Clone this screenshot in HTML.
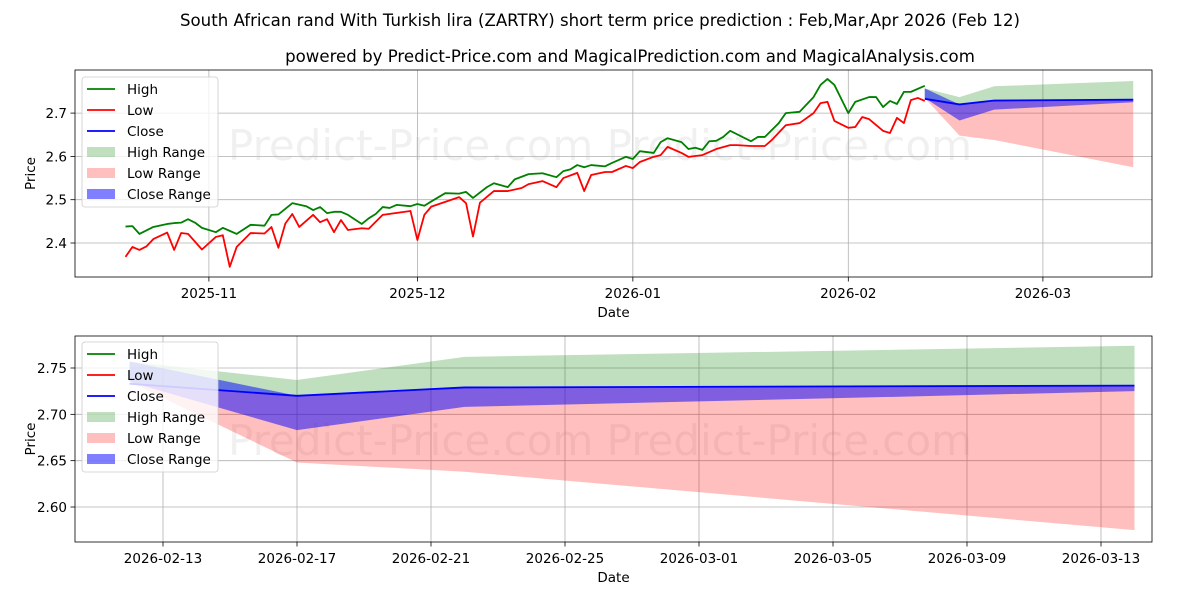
<!DOCTYPE html>
<html><head><meta charset="utf-8">
<style>
html,body{margin:0;padding:0;width:1200px;height:600px;overflow:hidden;background:#fff;}
svg{display:block;font-family:"DejaVu Sans","Liberation Sans",sans-serif;}
</style></head>
<body>
<svg id="chart" width="1200" height="600" viewBox="0 0 1200 600" xmlns="http://www.w3.org/2000/svg">
<rect width="1200" height="600" fill="#fff"/>
<text x="600" y="26" font-size="16.6" text-anchor="middle">South African rand With Turkish lira (ZARTRY) short term price prediction : Feb,Mar,Apr 2026 (Feb 12)</text>
<text x="630" y="62" font-size="16.6" text-anchor="middle">powered by Predict-Price.com and MagicalPrediction.com and MagicalAnalysis.com</text>
<g id="top"></g>
<g id="bot"></g>
</svg>
<script>
// historical data: day offset from 2025-10-20
const highDays=[0,1,2,4,6,7,8,9,10,11,13,14,15,16,18,20,21,22,24,26,27,28,29,30,31,32,34,35,36,37,38,39,41,42,43,44,46,48,49,50,52,53,55,56,58,60,62,63,64,65,66,67,69,70,72,73,74,76,77,78,80,81,82,83,84,85,86,87,90,91,92,94,95,97,99,100,101,102,104,105,107,108,109,110,111,112,113,115];
const highVals=[2.438,2.439,2.421,2.437,2.444,2.446,2.447,2.455,2.447,2.435,2.425,2.435,2.428,2.421,2.442,2.440,2.465,2.466,2.492,2.485,2.476,2.483,2.469,2.472,2.472,2.465,2.444,2.457,2.467,2.483,2.481,2.488,2.485,2.490,2.486,2.496,2.515,2.514,2.518,2.504,2.529,2.538,2.529,2.547,2.559,2.561,2.552,2.566,2.570,2.580,2.575,2.580,2.577,2.585,2.599,2.594,2.612,2.608,2.633,2.642,2.633,2.617,2.620,2.615,2.635,2.636,2.645,2.659,2.635,2.645,2.645,2.677,2.700,2.703,2.737,2.765,2.779,2.765,2.700,2.726,2.737,2.737,2.714,2.728,2.721,2.749,2.749,2.763];
const lowDays=[0,1,2,3,4,6,7,8,9,11,13,14,15,16,18,20,21,22,23,24,25,27,28,29,30,31,32,34,35,37,41,42,43,44,48,49,50,51,53,55,57,58,60,62,63,65,66,67,69,70,72,73,74,76,77,78,80,81,82,83,85,87,88,90,92,93,95,97,99,100,101,102,104,105,106,107,109,110,111,112,113,114,115];
const lowVals=[2.368,2.391,2.384,2.392,2.409,2.424,2.384,2.423,2.421,2.385,2.414,2.418,2.345,2.391,2.423,2.422,2.437,2.389,2.445,2.467,2.437,2.465,2.448,2.455,2.425,2.453,2.430,2.434,2.433,2.465,2.474,2.407,2.465,2.484,2.506,2.492,2.415,2.493,2.520,2.520,2.527,2.536,2.543,2.529,2.550,2.562,2.520,2.557,2.564,2.564,2.578,2.573,2.587,2.599,2.603,2.622,2.608,2.599,2.601,2.603,2.617,2.626,2.626,2.624,2.624,2.638,2.672,2.677,2.700,2.723,2.726,2.682,2.666,2.668,2.691,2.686,2.659,2.654,2.689,2.677,2.730,2.735,2.728];
// forecast (Feb 12, Feb 17, Feb 22, Mar 14)
const fcDays=[115,120,125,145];
const fcClose=[2.733,2.720,2.729,2.731];
const fcHighTop=[2.757,2.737,2.762,2.774];
const fcHighBot=[2.735,2.720,2.729,2.731];
const fcLowTop=[2.735,2.720,2.729,2.731];
const fcLowBot=[2.735,2.648,2.638,2.575];
const fcCloseTop=[2.757,2.720,2.729,2.731];
const fcCloseBot=[2.735,2.683,2.708,2.725];
const topXTicks=[[12,'2025-11'],[42,'2025-12'],[73,'2026-01'],[104,'2026-02'],[132,'2026-03']];
const topYTicks=[2.4,2.5,2.6,2.7];
const botXTicks=[[116,'2026-02-13'],[120,'2026-02-17'],[124,'2026-02-21'],[128,'2026-02-25'],[132,'2026-03-01'],[136,'2026-03-05'],[140,'2026-03-09'],[144,'2026-03-13']];
const botYTicks=[2.60,2.65,2.70,2.75];

const NS='http://www.w3.org/2000/svg';
function mk(parent,tag,attrs,txt){const e=document.createElementNS(NS,tag);for(const k in attrs)e.setAttribute(k,attrs[k]);if(txt!==undefined)e.textContent=txt;parent.appendChild(e);return e;}

function panel(g,cfg){
  const {L,R,T,B,x,y,xt,yt,yfmt,legendY,wmY,hist}=cfg;
  const wm=mk(g,'text',{x:600,y:wmY,'font-size':42,fill:'#000','fill-opacity':0.06,'text-anchor':'middle'},'Predict-Price.com    Predict-Price.com');
  
  
  xt.forEach(t=>{const px=x(t[0]);
    const gl=mk(g,'line',{x1:px,x2:px,y1:T,y2:B,stroke:'#b0b0b0','stroke-width':0.8});
    
    
    mk(g,'line',{x1:px,x2:px,y1:B,y2:B+4.5,stroke:'#000','stroke-width':0.8});
    const tl=mk(g,'text',{x:px,y:B+21,'font-size':13.5,'text-anchor':'middle'},t[1]);
    
    
  });
  yt.forEach(v=>{const py=y(v);
    const gl=mk(g,'line',{x1:L,x2:R,y1:py,y2:py,stroke:'#b0b0b0','stroke-width':0.8});
    
    
    mk(g,'line',{x1:L-4.5,x2:L,y1:py,y2:py,stroke:'#000','stroke-width':0.8});
    const tl=mk(g,'text',{x:L-8,y:py+5,'font-size':13.5,'text-anchor':'end'},yfmt(v));
    
    
  });
  const clip='c'+T;
  const cp=mk(mk(g,'defs',{}),'clipPath',{id:clip});mk(cp,'rect',{x:L,y:T,width:R-L,height:B-T});
  const area=mk(g,'g',{'clip-path':'url(#'+clip+')'});
  function band(top,bot,col,op,name){
    let d='';fcDays.forEach((dd,i)=>{d+=(i?'L':'M')+x(dd)+','+y(top[i]);});
    for(let i=fcDays.length-1;i>=0;i--)d+='L'+x(fcDays[i])+','+y(bot[i]);
    const p=mk(area,'path',{d:d+'Z',fill:col,'fill-opacity':op});
    
    
  }
  band(fcHighTop,fcHighBot,'#008000',0.25,'high-range-band');
  band(fcLowTop,fcLowBot,'#ff0000',0.25,'low-range-band');
  band(fcCloseTop,fcCloseBot,'#0000ff',0.5,'close-range-band');
  function line(days,vals,col,name){
    const p=mk(area,'polyline',{points:days.map((d,i)=>x(d)+','+y(vals[i])).join(' '),fill:'none',stroke:col,'stroke-width':1.8,'stroke-linejoin':'round'});
    
    
  }
  if(hist){
    line(highDays,highVals,'#008000','high-line');
    line(lowDays,lowVals,'#ff0000','low-line');
  }
  line(fcDays,fcClose,'#0000ff','close-line');
  const fr=mk(g,'rect',{x:L,y:T,width:R-L,height:B-T,fill:'none',stroke:'#000','stroke-width':0.8});
  
  
  const xl=mk(g,'text',{x:(L+R)/2,y:B+40,'font-size':13.5,'text-anchor':'middle'},'Date');
  
  
  const yl=mk(g,'text',{x:0,y:0,'font-size':13.5,'text-anchor':'middle',transform:'translate('+(L-40)+','+((T+B)/2)+') rotate(-90)'},'Price');
  
  
  const lg=mk(g,'g',{});
  
  
  mk(lg,'rect',{x:82,y:legendY,width:136,height:130,rx:3,fill:'#fff','fill-opacity':0.8,stroke:'#ccc','stroke-width':0.8});
  const items=[['High','line','#008000',1],['Low','line','#ff0000',1],['Close','line','#0000ff',1],['High Range','box','#008000',0.25],['Low Range','box','#ff0000',0.25],['Close Range','box','#0000ff',0.5]];
  items.forEach((it,i)=>{const cy=legendY+12+i*21;
    const ent=mk(lg,'g',{});
    
    
    if(it[1]==='line')mk(ent,'line',{x1:87,x2:115,y1:cy,y2:cy,stroke:it[2],'stroke-width':1.8});
    else mk(ent,'rect',{x:87,y:cy-5,width:28,height:10,fill:it[2],'fill-opacity':it[3]});
    mk(ent,'text',{x:127,y:cy+5,'font-size':13.5},it[0]);
  });
}
const topX=d=>125.5+d*6.95, topY=v=>243-(v-2.4)*433;
panel(document.getElementById('top'),{L:75,R:1152,T:70,B:277,x:topX,y:topY,xt:topXTicks,yt:topYTicks,yfmt:v=>v.toFixed(1),legendY:77,wmY:160,hist:true});
const botX=d=>163+(d-116)*33.5, botY=v=>368-(v-2.75)*926.7;
panel(document.getElementById('bot'),{L:75,R:1152,T:336,B:542,x:botX,y:botY,xt:botXTicks,yt:botYTicks,yfmt:v=>v.toFixed(2),legendY:342,wmY:455,hist:false});
document.getElementById('top');
document.getElementById('top');
document.getElementById('bot');
document.getElementById('bot');
</script>
</body></html>
